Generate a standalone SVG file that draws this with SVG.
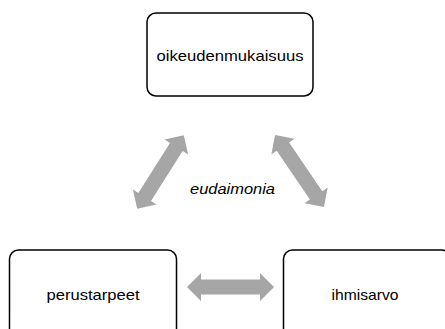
<svg xmlns="http://www.w3.org/2000/svg" width="445" height="329" viewBox="0 0 445 329">
<defs>
<style>
.box{fill:#fff;stroke:#000;stroke-width:1.5}
.lbl{font-family:"Liberation Sans",Arial,sans-serif;font-size:15px;fill:#000;text-anchor:middle}
.arr{fill:#a6a6a6}
</style>
<polygon id="dbl" class="arr" points="-43.5,0 -29.5,-14 -29.5,-7.5 29.5,-7.5 29.5,-14 43.5,0 29.5,14 29.5,7.5 -29.5,7.5 -29.5,14"/>
</defs>
<rect width="445" height="329" fill="#fff"/>
<g id="connectors">
<use href="#dbl" transform="translate(160.5,172) rotate(-57.6)"/>
<use href="#dbl" transform="translate(299.5,171) rotate(55.8)"/>
<use href="#dbl" transform="translate(230.5,287)"/>
</g>
<g id="oikeudenmukaisuus">
<rect class="box" x="147" y="13" width="166" height="83" rx="9"/>
<text class="lbl" x="230" y="60.5" textLength="147" lengthAdjust="spacingAndGlyphs">oikeudenmukaisuus</text>
</g>
<g id="perustarpeet">
<rect class="box" x="9.5" y="250" width="167" height="104" rx="9"/>
<text class="lbl" x="93" y="300" textLength="93" lengthAdjust="spacingAndGlyphs">perustarpeet</text>
</g>
<g id="ihmisarvo">
<rect class="box" x="283.5" y="250" width="167" height="104" rx="9"/>
<text class="lbl" x="365" y="300" textLength="67" lengthAdjust="spacingAndGlyphs">ihmisarvo</text>
</g>
<g id="eudaimonia">
<text class="lbl" x="232.5" y="194" font-style="italic" textLength="85" lengthAdjust="spacingAndGlyphs">eudaimonia</text>
</g>
</svg>
